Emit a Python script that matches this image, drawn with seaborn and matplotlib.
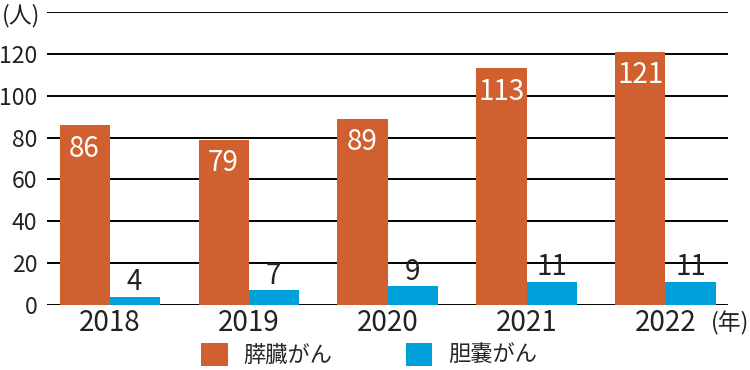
import numpy as np
import pandas as pd
import matplotlib
matplotlib.use("Agg")
import matplotlib.pyplot as plt
import seaborn as sns
from matplotlib.patches import Patch

years = ["2018", "2019", "2020", "2021", "2022"]
pancreas = [86, 79, 89, 113, 121]
gallbladder = [4, 7, 9, 11, 11]
series_names = ["膵臓がん", "胆嚢がん"]
colors = {"膵臓がん": "#D0602F", "胆嚢がん": "#00A0DA"}

df = pd.DataFrame({
    "year": years * 2,
    "count": pancreas + gallbladder,
    "type": [series_names[0]] * len(years) + [series_names[1]] * len(years),
})

sns.set_style("white")
plt.rcParams["font.family"] = ["Noto Sans CJK JP", "DejaVu Sans"]

fig = plt.figure(figsize=(7.5, 3.7), dpi=100)
ax = fig.add_axes([0.0627, 0.1757, 0.9080, 0.7919])

sns.barplot(
    data=df, x="year", y="count", hue="type", palette=colors,
    width=0.72, gap=0, saturation=1, legend=False, ax=ax, zorder=3,
    linewidth=0,
)

ax.set_ylim(0, 140)
ax.set_xlim(-0.45, 4.45)
ax.set_yticks(np.arange(0, 141, 20))
ax.set_yticklabels(["0", "20", "40", "60", "80", "100", "120", ""])
ax.yaxis.grid(True, color="black", linewidth=1.4, zorder=1)
ax.tick_params(axis="both", length=0, colors="#222222")
ax.tick_params(axis="y", pad=7, labelsize=16.5)
ax.tick_params(axis="x", pad=2, labelsize=20)
for s in ax.spines.values():
    s.set_visible(False)
ax.set_xlabel("")
ax.set_ylabel("")

# value labels
for i, cont in enumerate(ax.containers):
    for p in cont.patches:
        h = p.get_height()
        xc = p.get_x() + p.get_width() / 2
        if i == 0:
            ax.annotate(f"{h:.0f}", (xc, h), xytext=(0, -17), textcoords="offset points",
                        ha="center", va="center", color="white", fontsize=20, zorder=4)
        else:
            ax.annotate(f"{h:.0f}", (xc, h), xytext=(0, 10.5), textcoords="offset points",
                        ha="center", va="center", color="#222222", fontsize=20, zorder=4)

fig.text(0.002, 0.958, "(人)", fontsize=16.5, color="#222222", ha="left", va="center")
fig.text(0.999, 0.125, "(年)", fontsize=16.5, color="#222222", ha="right", va="center")

handles = [Patch(facecolor=colors[n], edgecolor="none") for n in series_names]
fig.legend(handles, series_names, loc="center", bbox_to_anchor=(0.492, 0.04),
           ncol=2, frameon=False, fontsize=16, handlelength=1.2, handleheight=1.2,
           handletextpad=0.7, columnspacing=3.3)

fig.savefig("out.png", dpi=100)
